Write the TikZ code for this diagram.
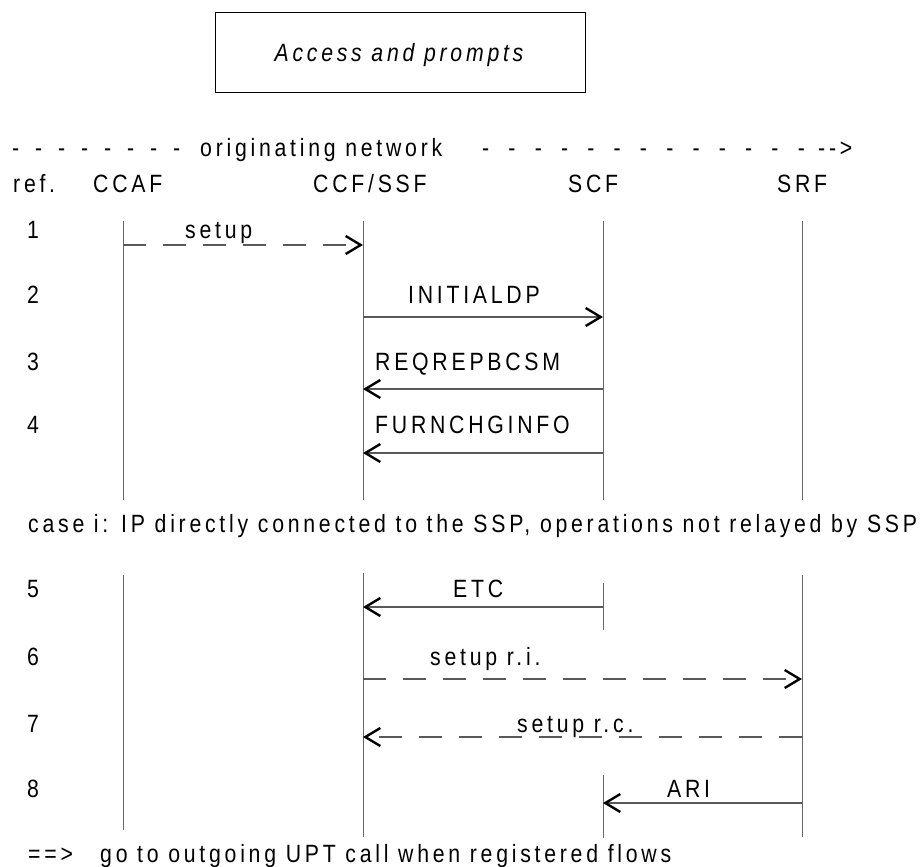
\documentclass[tikz,border=0pt]{standalone}
\usepackage{fontspec}
\setmainfont{Liberation Sans}[FakeStretch=0.85,LetterSpace=15]
\usetikzlibrary{arrows.meta}
\newcommand\dashrun[2]{\foreach \k in {1,...,#1}{\makebox[#2][l]{-}}}
\begin{document}
\begin{tikzpicture}[x=1pt,y=-1pt,
  txt/.style={font=\fontsize{25}{29}\selectfont, inner sep=0pt, anchor=base west},
  ctxt/.style={txt, anchor=base},
  life/.style={draw=black!60, line width=1pt},
  msg/.style={draw=black!65, line width=1.3pt, -{Straight Barb[length=15pt,width=18pt,line width=2.4pt,color=black]}},
  dmsg/.style={msg, dash pattern=on 23pt off 17pt},
]
\useasboundingbox (0,0) rectangle (922,867);
\fill[white] (0,0) rectangle (922,867);

% title box
\node[draw, line width=1pt, minimum width=370pt, minimum height=80pt, inner sep=0pt] (box) at (400,52.5) {};
\node[ctxt, font=\fontsize{25}{29}\selectfont\itshape] (title) at (399,62) {Access and prompts};

% header
\node[txt] (hdl) at (12,157) {\dashrun{8}{23pt}};
\node[txt] (hdt) at (200,157) {originating network};
\node[txt] (hdr) at (482,157) {\dashrun{13}{26.3pt}};
\node[txt] (hda) at (818,157) {-{}-{}>};

% column heads
\node[txt] (ref) at (13,192) {ref.};
\node[txt] (hccaf) at (93,192) {CCAF};
\node[txt] (hccf) at (313,192) {CCF/SSF};
\node[txt] (hscf) at (568,192) {SCF};
\node[txt] (hsrf) at (777,192) {SRF};

% lifelines
\coordinate (a1) at (123,221); \coordinate (a2) at (123,500);
\coordinate (a3) at (123,575); \coordinate (a4) at (123,830);
\coordinate (b1) at (363,221); \coordinate (b2) at (363,500);
\coordinate (b3) at (363,573); \coordinate (b4) at (363,837);
\coordinate (c1) at (603,221); \coordinate (c2) at (603,500);
\coordinate (c3) at (603,583); \coordinate (c4) at (603,630);
\coordinate (c5) at (603,775); \coordinate (c6) at (603,838);
\coordinate (d1) at (802,221); \coordinate (d2) at (802,500);
\coordinate (d3) at (802,575); \coordinate (d4) at (802,837);
\draw[life] (a1) -- (a2) (a3) -- (a4);
\draw[life] (b1) -- (b2) (b3) -- (b4);
\draw[life] (c1) -- (c2) (c3) -- (c4) (c5) -- (c6);
\draw[life] (d1) -- (d2) (d3) -- (d4);

% row numbers
\node[ctxt] (r1) at (33,238) {1};
\node[ctxt] (r2) at (33,303) {2};
\node[ctxt] (r3) at (33,370) {3};
\node[ctxt] (r4) at (33,433) {4};
\node[ctxt] (r5) at (33,597) {5};
\node[ctxt] (r6) at (33,665) {6};
\node[ctxt] (r7) at (33,732) {7};
\node[ctxt] (r8) at (33,797) {8};

% messages
\coordinate (m1s) at (123,245); \coordinate (m1e) at (363,245);
\draw[dmsg] (m1s) -- (m1e);
\node[txt] (l1) at (185,238) {setup};

\coordinate (m2s) at (363,317); \coordinate (m2e) at (603,317);
\draw[msg] (m2s) -- (m2e);
\node[txt] (l2) at (408,303) {INITIALDP};

\coordinate (m3s) at (603,389); \coordinate (m3e) at (363,389);
\draw[msg] (m3s) -- (m3e);
\node[txt] (l3) at (375,370) {REQREPBCSM};

\coordinate (m4s) at (603,453); \coordinate (m4e) at (363,453);
\draw[msg] (m4s) -- (m4e);
\node[txt] (l4) at (375,433) {FURNCHGINFO};

\node[txt] (casei) at (28,532) {case i: IP directly connected to the SSP, operations not relayed by SSP};

\coordinate (m5s) at (603,607); \coordinate (m5e) at (363,607);
\draw[msg] (m5s) -- (m5e);
\node[txt] (l5) at (453,597) {ETC};

\coordinate (m6s) at (363,679); \coordinate (m6e) at (802,679);
\draw[dmsg] (m6s) -- (m6e);
\node[txt] (l6) at (430,665) {setup r.i.};

\coordinate (m7s) at (802,737); \coordinate (m7e) at (363,737);
\draw[dmsg] (m7s) -- (m7e);
\node[txt] (l7) at (517,732) {setup r.c.};

\coordinate (m8s) at (802,803); \coordinate (m8e) at (603,803);
\draw[msg] (m8s) -- (m8e);
\node[txt] (l8) at (667,797) {ARI};

\node[txt] (goarr) at (28,862) {==>};
\node[txt] (gotxt) at (100,862) {go to outgoing UPT call when registered flows};
\end{tikzpicture}
\end{document}
